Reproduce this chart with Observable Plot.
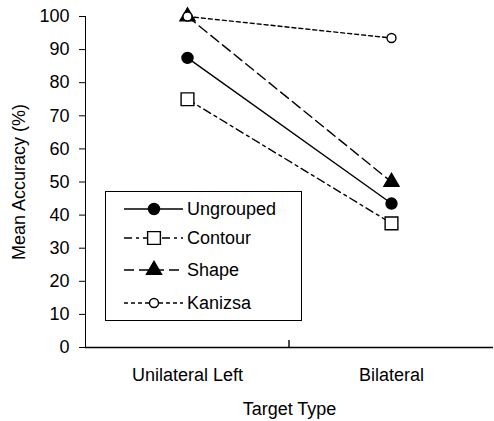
<!DOCTYPE html>
<html><head><meta charset="utf-8">
<script src="https://cdn.jsdelivr.net/npm/d3@7"></script>
<script src="https://cdn.jsdelivr.net/npm/@observablehq/plot@0.6"></script>
<style>
body{margin:0;background:#fff;font-family:"Liberation Sans",Arial,sans-serif;}
#wrap{position:relative;width:494px;height:421px;}
#legend{position:absolute;left:105px;top:191px;width:195px;height:128px;border:1px solid #000;background:#fff;}
</style></head><body><div id="wrap"><div id="legend"></div></div>
<script>
// Data
const categories = ["Unilateral Left", "Bilateral"];
const seriesNames = ["Ungrouped", "Contour", "Shape", "Kanizsa"];
const ungrouped = [87.5, 43.5];
const contour = [75, 37.5];
const shape = [100, 50];
const kanizsa = [100, 93.5];
const yTicks = [0, 10, 20, 30, 40, 50, 60, 70, 80, 90, 100];
const xLabel = "Target Type";
const yLabel = "Mean Accuracy (%)";

const valuesBySeries = {Ungrouped: ungrouped, Contour: contour, Shape: shape, Kanizsa: kanizsa};
const data = seriesNames.flatMap(s => categories.map((c, j) => ({series: s, target: c, value: valuesBySeries[s][j]})));

// Styles
const styles = {
  Ungrouped: {dash: null, symbol: "circle", fill: "black", r: 5.5},
  Contour: {dash: "8,4,3,4", symbol: "square", fill: "white", r: 7.2},
  Shape: {dash: "10,5", symbol: "triangle", fill: "black", r: 5.6},
  Kanizsa: {dash: "4,3", symbol: "circle", fill: "white", r: 4.5}
};

const lineMarks = seriesNames.map(s => Plot.line(data.filter(d => d.series === s), {
  x: "target", y: "value", stroke: "black", strokeWidth: 1.4,
  strokeDasharray: styles[s].dash || undefined
}));
const dotMarks = seriesNames.map(s => Plot.dot(data.filter(d => d.series === s), {
  x: "target", y: "value", symbol: styles[s].symbol, r: styles[s].r,
  fill: styles[s].fill, stroke: "black", strokeWidth: 1.4
}));

const plot = Plot.plot({
  width: 494, height: 421,
  marginLeft: 85, marginRight: 1, marginTop: 16, marginBottom: 74,
  style: {fontFamily: "'Liberation Sans', Arial, sans-serif", fontSize: "18px", color: "black", background: "white", overflow: "visible"},
  x: {type: "point", domain: categories, padding: 0.5, label: xLabel, labelAnchor: "center", labelArrow: false, tickSize: 0, tickPadding: 21, labelOffset: 67},
  y: {domain: [0, 100], ticks: yTicks, label: yLabel, labelAnchor: "center", labelArrow: false, tickSize: 6, tickPadding: 10, labelOffset: 73, line: true},
  marks: [
    Plot.ruleY([0], {stroke: "black", strokeWidth: 1.4}),
    ...lineMarks,
    ...dotMarks
  ]
});
document.getElementById("wrap").prepend(plot);

// category separator tick on the x axis, from the scales
const xs = plot.scale("x"), ys = plot.scale("y");
const mid = (xs.apply(categories[0]) + xs.apply(categories[1])) / 2;
const y0 = ys.apply(0);
d3.select(plot).append("line").attr("x1", mid).attr("x2", mid).attr("y1", y0).attr("y2", y0 - 7)
  .attr("stroke", "black").attr("stroke-width", 1.4);

// Legend
const lg = d3.select("#legend").append("svg").attr("width", 195).attr("height", 128)
  .style("font-family", "'Liberation Sans', Arial, sans-serif").style("font-size", "18px");
const rowY = [17, 46, 78, 111];
seriesNames.forEach((s, i) => {
  const st = styles[s];
  const g = lg.append("g").attr("transform", `translate(0,${rowY[i]})`);
  g.append("line").attr("x1", 18).attr("x2", 77).attr("y1", 0).attr("y2", 0)
    .attr("stroke", "black").attr("stroke-width", 1.4).attr("stroke-dasharray", st.dash);
  const sym = {circle: d3.symbolCircle, square: d3.symbolSquare, triangle: d3.symbolTriangle}[st.symbol];
  g.append("path").attr("transform", "translate(48,0)")
    .attr("d", d3.symbol(sym, st.r * st.r * Math.PI)())
    .attr("fill", st.fill).attr("stroke", "black").attr("stroke-width", 1.4);
  g.append("text").attr("x", 81).attr("y", 0).attr("dy", "0.35em").text(s);
});
</script></body></html>
